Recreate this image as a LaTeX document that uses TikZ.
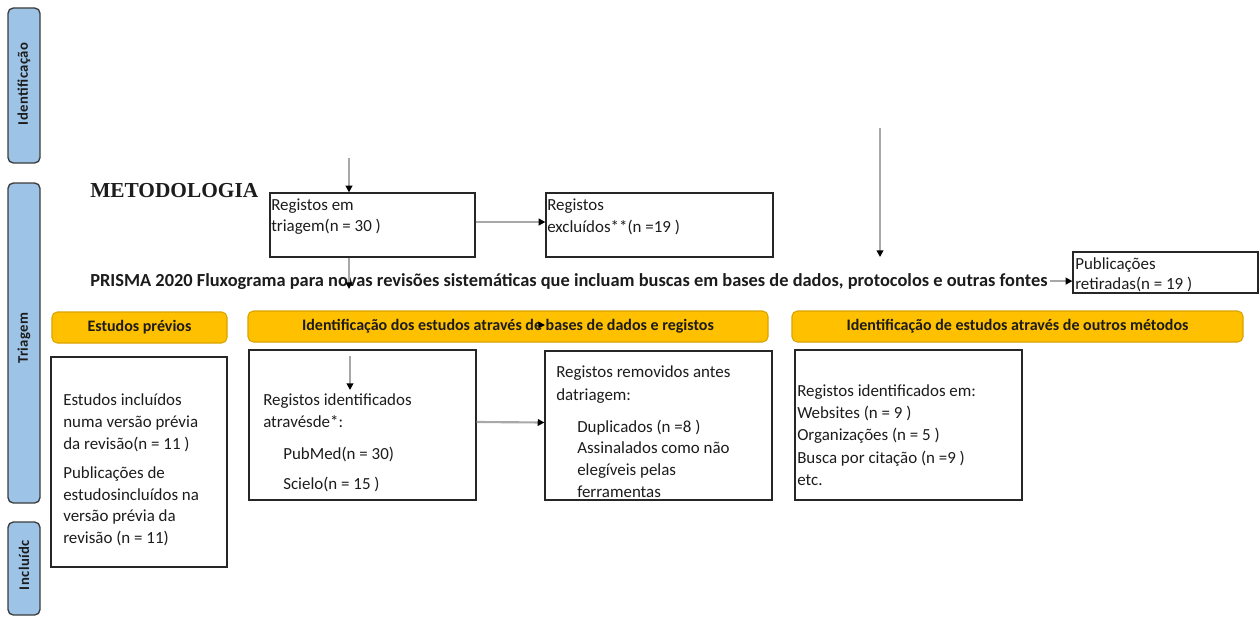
\documentclass[tikz,border=0pt]{standalone}
\usepackage{fontspec}
\setmainfont{Carlito}
\newfontfamily\metfont{Liberation Serif}
\usetikzlibrary{arrows.meta,fit,calc}
\definecolor{sideblue}{HTML}{9DC3E6}
\definecolor{sideline}{HTML}{3C3C3C}
\definecolor{hdrfill}{HTML}{FFC000}
\definecolor{hdrline}{HTML}{D9A400}
\definecolor{arrgray}{HTML}{A8A8A8}
\definecolor{txtc}{HTML}{1C1C1C}
\begin{document}
\begin{tikzpicture}[x=0.75pt,y=-0.75pt,
  sidebox/.style={draw=sideline, fill=sideblue, rounded corners=4pt, line width=1pt, inner sep=0pt},
  sidetxt/.style={font=\fontsize{11}{13}\selectfont\bfseries\addfontfeatures{LetterSpace=3}, rotate=90, text=txtc, inner sep=0pt},
  hdrbox/.style={draw=hdrline, fill=hdrfill, rounded corners=4pt, line width=0.8pt, inner sep=0pt},
  hdrtxt/.style={font=\fontsize{12}{14}\selectfont\bfseries, text=txtc, inner sep=0pt},
  cbox/.style={draw=black!85, line width=0.9pt, inner sep=0pt},
  bodytxt/.style={font=\fontsize{12.7}{15}\selectfont, text=txtc, inner sep=0pt, anchor=base west},
  arr/.style={draw=arrgray, line width=1.6pt, -{Triangle[length=5pt,width=5pt,color=black]}}
]
\fill[white] (0,0) rectangle (1259,617);
\useasboundingbox (0,0) rectangle (1259,617);

% side labels
\node[sidebox, fit={(8,8) (40,163)}] (sideA) {};
\node[sidetxt] (sideAt) at (24,84) {Identificação};
\node[sidebox, fit={(8,183) (40,503)}] (sideB) {};
\node[sidetxt] (sideBt) at (24,338) {Triagem};
\node[sidebox, fit={(8,522) (40,615)}] (sideC) {};
\node[sidetxt] (sideCt) at (24,565) {Incluídc};

% heading
\node[font=\metfont\bfseries\fontsize{16}{18}\selectfont, text=txtc, anchor=base west, inner sep=0pt] (met) at (90,197) {METODOLOGIA};

% upper boxes
\node[cbox, fit={(270,193) (475,257)}] (scr) {};
\node[bodytxt] (scr1) at (271,210) {Registos em};
\node[bodytxt] (scr2) at (271,231) {triagem(n = 30 )};

\node[cbox, fit={(546,193) (773,257)}] (exc) {};
\node[bodytxt] (exc1) at (547,210) {Registos};
\node[bodytxt] (exc2) at (547,232) {excluídos**(n =19 )};

\node[cbox, fit={(1073,252) (1258,293)}] (pub) {};
\node[bodytxt] (pub1) at (1075,269) {Publicações};
\node[bodytxt] (pub2) at (1075,289) {retiradas(n = 19 )};

% title
\node[font=\fontsize{13.8}{16}\selectfont\bfseries, text=txtc, anchor=base west, inner sep=0pt] (title) at (90,286) {PRISMA 2020 Fluxograma para novas revisões sistemáticas que incluam buscas em bases de dados, protocolos e outras fontes};

% headers
\node[hdrbox, fit={(52,312) (227,343)}] (hA) {};
\node[hdrtxt] (hAt) at (hA.center) {Estudos prévios};
\node[hdrbox, fit={(248,311) (768,342)}] (hB) {};
\node[hdrtxt] (hBt) at (hB.center) {Identificação dos estudos através de bases de dados e registos};
\node[hdrbox, fit={(792,311) (1243,342)}] (hC) {};
\node[hdrtxt] (hCt) at (hC.center) {Identificação de estudos através de outros métodos};

% lower boxes
\node[cbox, fit={(51,357) (227,567)}] (prev) {};
\node[bodytxt] (prev1) at (63,405) {Estudos incluídos};
\node[bodytxt] (prev2) at (63,427) {numa versão prévia};
\node[bodytxt] (prev3) at (63,449) {da revisão(n = 11 )};
\node[bodytxt] (prev4) at (63,478) {Publicações de};
\node[bodytxt] (prev5) at (63,500) {estudosincluídos na};
\node[bodytxt] (prev6) at (63,521) {versão prévia da};
\node[bodytxt] (prev7) at (63,543) {revisão (n = 11)};

\node[cbox, fit={(249,350) (476,500)}] (db) {};
\node[bodytxt] (db1) at (263,405) {Registos identificados};
\node[bodytxt] (db2) at (263,427) {atravésde*:};
\node[bodytxt] (db3) at (283,459) {PubMed(n = 30)};
\node[bodytxt] (db4) at (283,489) {Scielo(n = 15 )};

\node[cbox, fit={(545,351) (772,500)}] (rem) {};
\node[bodytxt] (rem1) at (556,377) {Registos removidos antes};
\node[bodytxt] (rem2) at (556,400) {datriagem:};
\node[bodytxt] (rem3) at (577,432) {Duplicados (n =8 )};
\node[bodytxt] (rem4) at (577,453) {Assinalados como não};
\node[bodytxt] (rem5) at (577,475) {elegíveis pelas};
\node[bodytxt] (rem6) at (577,497) {ferramentas};

\node[cbox, fit={(795,350) (1022,500)}] (oth) {};
\node[bodytxt] (oth1) at (797,396) {Registos identificados em:};
\node[bodytxt] (oth2) at (797,418) {Websites (n = 9 )};
\node[bodytxt] (oth3) at (797,440) {Organizações (n = 5 )};
\node[bodytxt] (oth4) at (797,463) {Busca por citação (n =9 )};
\node[bodytxt] (oth5) at (797,485) {etc.};

% connectors
\coordinate (topA) at (349,158);
\draw[arr] (topA) -- (topA |- scr.north);
\coordinate (endA) at (349,289);
\draw[arr] (scr.south -| endA) -- (endA);
\draw[arr] ([yshift=2.25pt]scr.east) -- ([yshift=2.25pt]exc.west);
\coordinate (topB) at (880,128);
\coordinate (endB) at (880,257);
\draw[arr] (topB) -- (endB);
\draw[arr] ([xshift=1.5pt]title.east) -- (title.east -| pub.west);
\coordinate (hdTip) at (545,325);
\draw[arr] ($(hdTip)+(-7,0)$) -- (hdTip);
\coordinate (inTop) at (350,356);
\coordinate (inEnd) at (350,390);
\draw[arr] (inTop) -- (inEnd);
\draw[arr] ([yshift=2.25pt]db.east) -- ([yshift=2.25pt]rem.west);
\end{tikzpicture}
\end{document}
